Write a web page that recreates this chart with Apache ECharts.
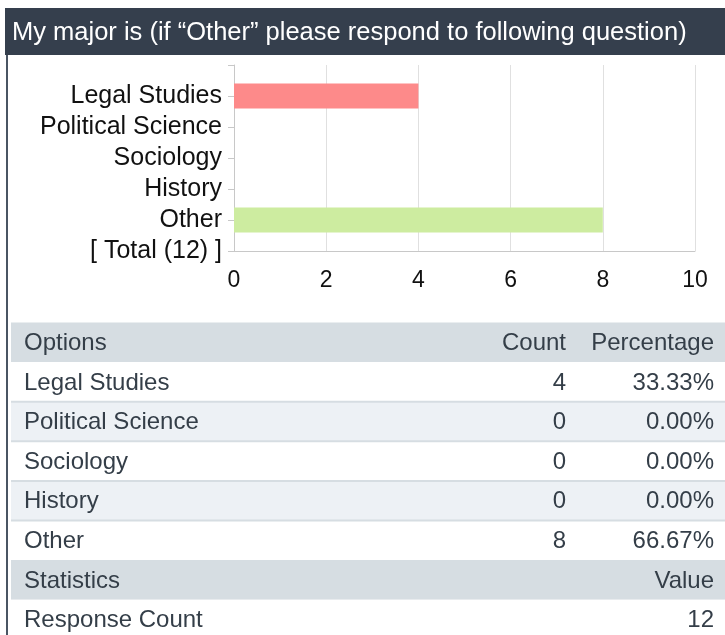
<!DOCTYPE html>
<html>
<head>
<meta charset="utf-8">
<script src="https://cdn.jsdelivr.net/npm/echarts@6/dist/echarts.min.js"></script>
<style>
  html, body { margin: 0; padding: 0; background: #fff; }
  #chart { width: 725px; height: 635px; }
</style>
</head>
<body>
<div id="chart"></div>
<script>
var titleText = 'My major is (if \u201cOther\u201d please respond to following question)';
var options = ['Legal Studies', 'Political Science', 'Sociology', 'History', 'Other'];
var counts = [4, 0, 0, 0, 8];
var percents = ['33.33%', '0.00%', '0.00%', '0.00%', '66.67%'];
var barColors = ['#fd8a8a', '#fd8a8a', '#fd8a8a', '#fd8a8a', '#cdeca0'];
var totalLabel = '[ Total (12) ]';
var xTicks = [0, 10, 2];  // min, max, interval
var statNames = ['Response Count'];
var statValues = ['12'];

var chart = echarts.init(document.getElementById('chart'));

// categories: blank slot on top, options, total row at the bottom
var cats = [''].concat(options).concat([totalLabel]);
var barData = ['-'].concat(counts.map(function (v, i) {
  return { value: v, itemStyle: { color: barColors[i] } };
})).concat(['-']);

var font = '"Liberation Sans", Arial, sans-serif';
var textCol = '#343e48';

var graphics = [];
// title bar
graphics.push({ type: 'rect', shape: { x: 5, y: 8, width: 720, height: 47 }, style: { fill: '#353f4d' } });
graphics.push({ type: 'text', x: 12, y: 33, style: { text: titleText, fill: '#fff', font: '25.5px ' + font, textVerticalAlign: 'middle' } });
// left border
graphics.push({ type: 'rect', shape: { x: 6, y: 55, width: 2, height: 580 }, style: { fill: '#4a5563' } });

// table
var rowH = 39.6, tTop = 322.5;
function row(i, bg) {
  graphics.push({ type: 'rect', shape: { x: 11, y: tTop + i * rowH, width: 714, height: rowH }, style: { fill: bg } });
}
function cell(i, txt, x, align) {
  graphics.push({ type: 'text', x: x, y: tTop + i * rowH + rowH / 2 + 1, style: { text: txt, fill: textCol, font: '24px ' + font, textAlign: align, textVerticalAlign: 'middle' } });
}
function sep(i) {
  graphics.push({ type: 'rect', shape: { x: 11, y: tTop + i * rowH - 1, width: 714, height: 2 }, style: { fill: '#d6dde2' } });
}
row(0, '#d6dde2');
cell(0, 'Options', 24, 'left');
cell(0, 'Count', 566, 'right');
cell(0, 'Percentage', 714, 'right');
options.forEach(function (name, k) {
  var i = k + 1;
  row(i, k % 2 === 1 ? '#edf1f5' : '#ffffff');
  if (k > 0) sep(i);
  cell(i, name, 24, 'left');
  cell(i, String(counts[k]), 566, 'right');
  cell(i, percents[k], 714, 'right');
});
var sRow = options.length + 1;
row(sRow, '#d6dde2');
cell(sRow, 'Statistics', 24, 'left');
cell(sRow, 'Value', 714, 'right');
statNames.forEach(function (name, k) {
  var i = sRow + 1 + k;
  row(i, '#ffffff');
  cell(i, name, 24, 'left');
  cell(i, statValues[k], 714, 'right');
});

var option = {
  animation: false,
  grid: { left: 234, right: 30, top: 65, height: 186 },
  xAxis: {
    type: 'value',
    min: xTicks[0], max: xTicks[1], interval: xTicks[2],
    axisLine: { show: true, lineStyle: { color: '#c8c8c8' } },
    axisTick: { show: false },
    splitLine: { lineStyle: { color: '#e0e0e0' } },
    axisLabel: { fontSize: 23, fontFamily: font, color: '#111', margin: 18 }
  },
  yAxis: {
    type: 'category',
    inverse: true,
    boundaryGap: false,
    data: cats,
    axisLine: { lineStyle: { color: '#c8c8c8' } },
    axisTick: { length: 6, interval: 0, lineStyle: { color: '#c8c8c8' } },
    axisLabel: { interval: 0, fontSize: 25, fontFamily: font, color: '#111', margin: 12 },
    splitLine: { show: false }
  },
  series: [{
    type: 'bar',
    barWidth: 25,
    data: barData
  }],
  graphic: graphics
};

chart.setOption(option);
window.onresize = function () { chart.resize(); };
</script>
</body>
</html>
